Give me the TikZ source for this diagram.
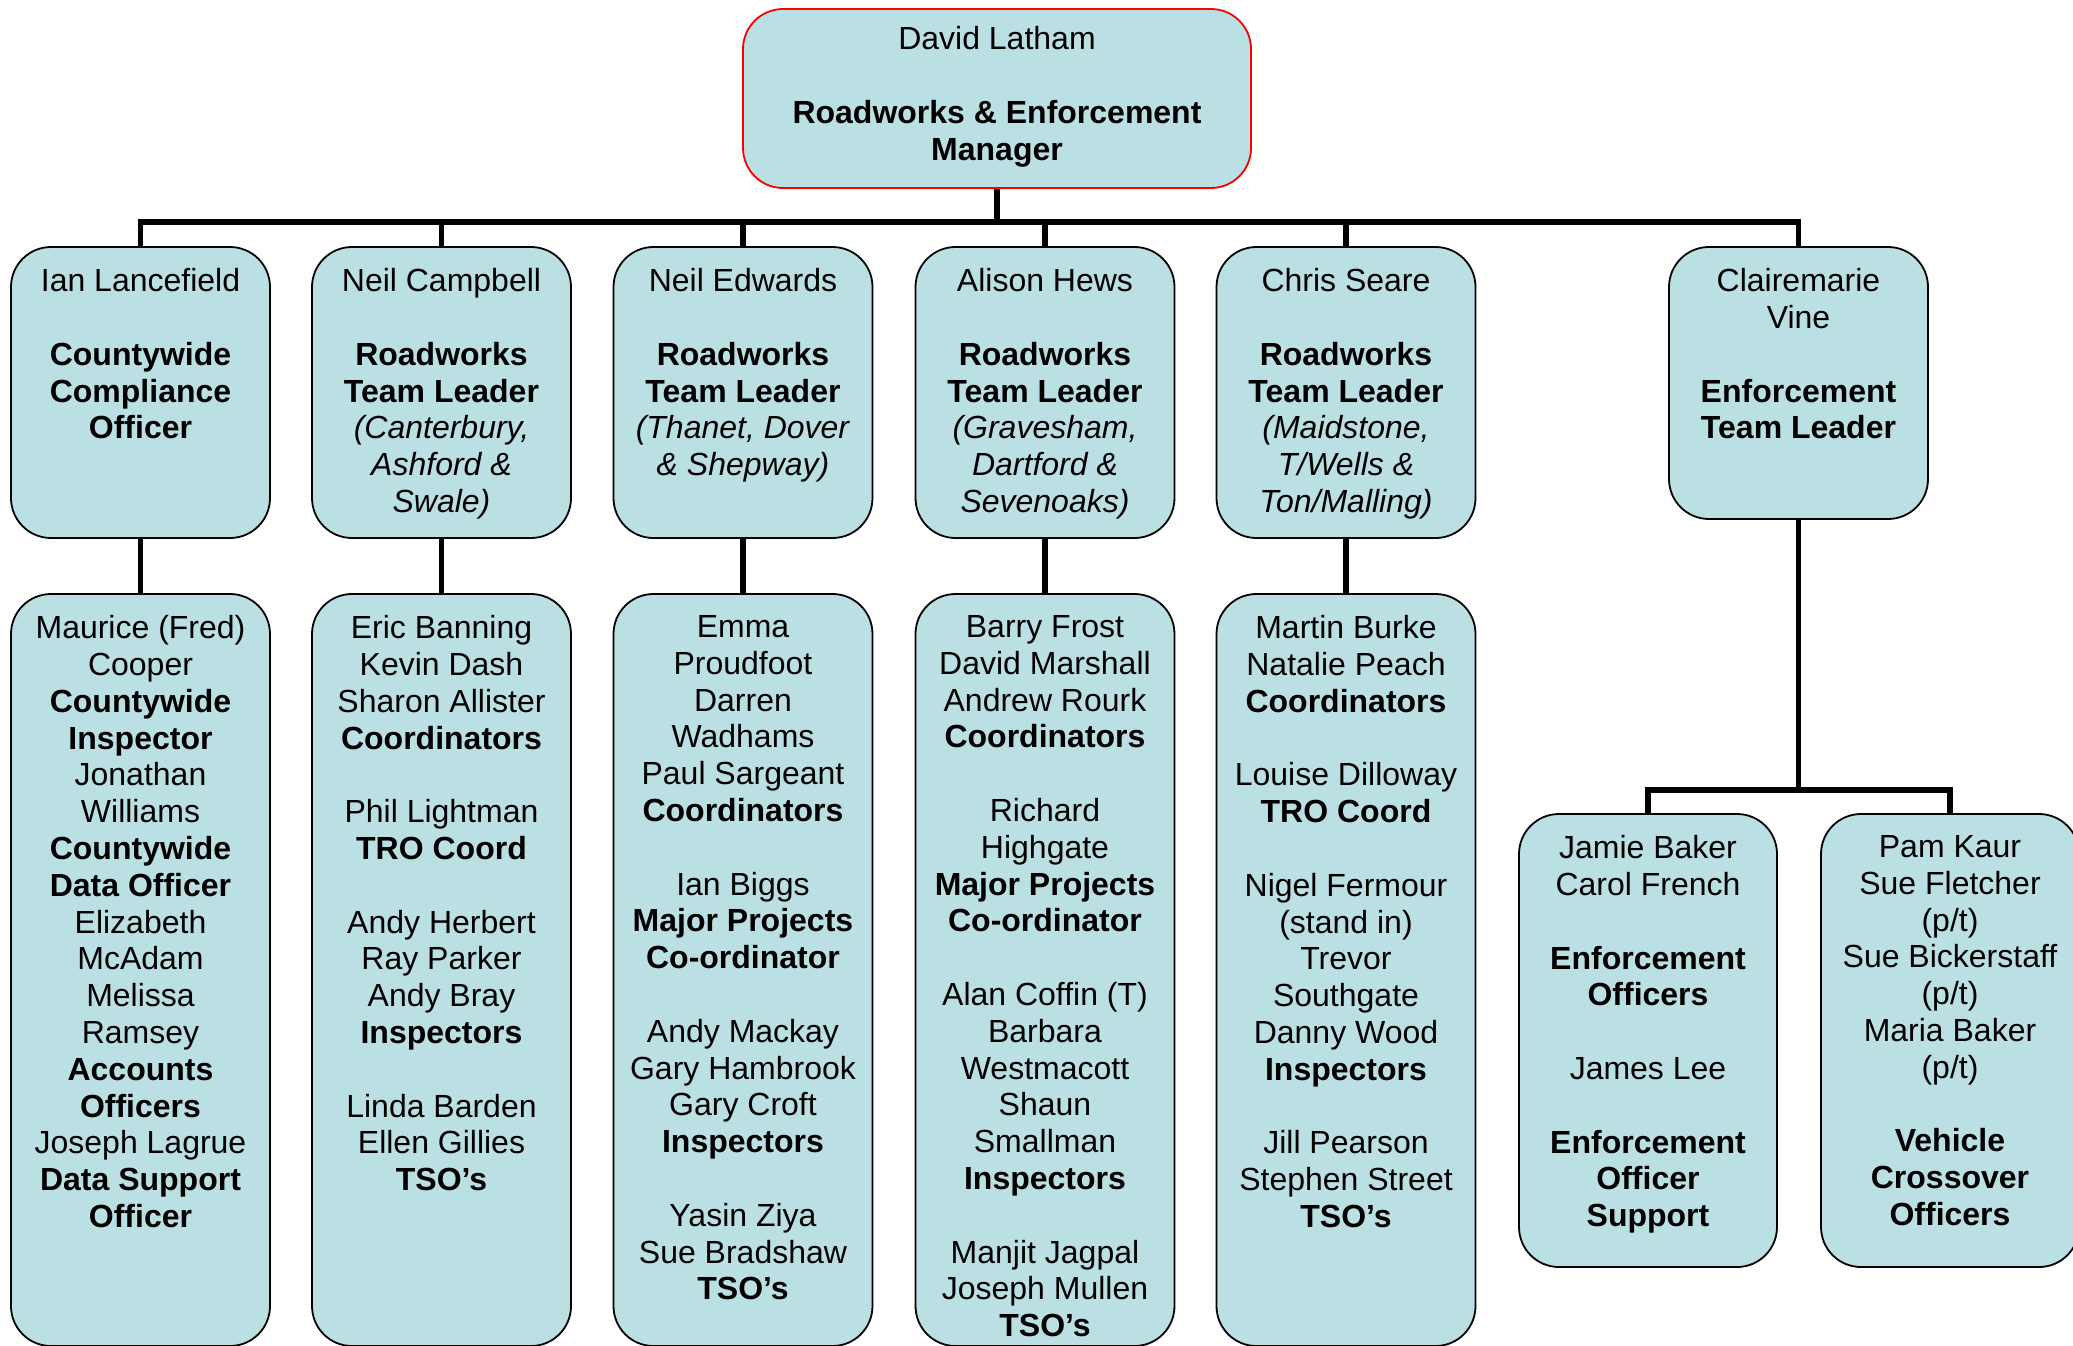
\documentclass[tikz,border=0pt]{standalone}
\usepackage{fontspec}
\setmainfont{Liberation Sans}
\definecolor{boxfill}{RGB}{187,224,227}
\definecolor{topline}{RGB}{250,0,0}
\newcommand{\skipline}{\\[18.4pt]}
\begin{document}
\begin{tikzpicture}[x=0.5pt,y=-0.5pt,
  box/.style={draw=black, line width=0.9pt, fill=boxfill, rounded corners=20pt, inner sep=0pt},
  topbox/.style={box, draw=topline, minimum width=254pt, minimum height=89.5pt},
  lbox/.style={box, minimum width=129.5pt, minimum height=145.5pt},
  mbox/.style={box, minimum width=129.5pt, minimum height=376pt},
  ebox/.style={box, minimum width=129pt, minimum height=226.5pt},
  txt/.style={anchor=north, align=center, inner sep=0pt, font=\fontsize{16}{18.4}\selectfont},
  conn/.style={draw=black, line width=2.7pt}]
\useasboundingbox (0,0) rectangle (2073,1345);
\coordinate (bus) at (0,222);
\coordinate (bus2) at (0,790);

% boxes
\node[topbox] (top) at (997,98.5) {};
\node[lbox] (l1) at (140.5,392.5) {};
\node[lbox] (l2) at (441.5,392.5) {};
\node[lbox] (l3) at (743,392.5) {};
\node[lbox] (l4) at (1045,392.5) {};
\node[lbox] (l5) at (1346,392.5) {};
\node[lbox, minimum height=136pt] (l6) at (1798.5,383) {};
\node[mbox] (m1) at (140.5,970) {};
\node[mbox] (m2) at (441.5,970) {};
\node[mbox] (m3) at (743,970) {};
\node[mbox] (m4) at (1045,970) {};
\node[mbox] (m5) at (1346,970) {};
\node[ebox] (e1) at (1648,1040.5) {};
\node[ebox] (e2) at (1950,1040.5) {};

% connectors
\draw[conn] (top.south) -- (top.south |- bus);
\draw[conn] (l1.north) |- (l6.north |- bus) -- (l6.north);
\draw[conn] (l2.north) -- (l2.north |- bus);
\draw[conn] (l3.north) -- (l3.north |- bus);
\draw[conn] (l4.north) -- (l4.north |- bus);
\draw[conn] (l5.north) -- (l5.north |- bus);
\draw[conn] (l1.south) -- (m1.north);
\draw[conn] (l2.south) -- (m2.north);
\draw[conn] (l3.south) -- (m3.north);
\draw[conn] (l4.south) -- (m4.north);
\draw[conn] (l5.south) -- (m5.north);
\draw[conn] (l6.south) -- (l6.south |- bus2);
\draw[conn] (e1.north) |- (e2.north |- bus2) -- (e2.north);

% texts
\node[txt] (ttop) at ([yshift=-9pt]top.north) {David Latham\skipline
  \textbf{Roadworks \& Enforcement}\\\textbf{Manager}};
\node[txt] (tl1) at ([yshift=-11pt]l1.north) {Ian Lancefield\skipline
  \textbf{Countywide}\\\textbf{Compliance}\\\textbf{Officer}};
\node[txt] (tl2) at ([yshift=-11pt]l2.north) {Neil Campbell\skipline
  \textbf{Roadworks}\\\textbf{Team Leader}\\\textit{(Canterbury,}\\\textit{Ashford \&}\\\textit{Swale)}};
\node[txt] (tl3) at ([yshift=-11pt]l3.north) {Neil Edwards\skipline
  \textbf{Roadworks}\\\textbf{Team Leader}\\\textit{(Thanet, Dover}\\\textit{\& Shepway)}};
\node[txt] (tl4) at ([yshift=-11pt]l4.north) {Alison Hews\skipline
  \textbf{Roadworks}\\\textbf{Team Leader}\\\textit{(Gravesham,}\\\textit{Dartford \&}\\\textit{Sevenoaks)}};
\node[txt] (tl5) at ([yshift=-11pt]l5.north) {Chris Seare\skipline
  \textbf{Roadworks}\\\textbf{Team Leader}\\\textit{(Maidstone,}\\\textit{T/Wells \&}\\\textit{Ton/Malling)}};
\node[txt] (tl6) at ([yshift=-11pt]l6.north) {Clairemarie\\Vine\skipline
  \textbf{Enforcement}\\\textbf{Team Leader}};

\node[txt] (tm1) at ([yshift=-11pt]m1.north) {Maurice (Fred)\\Cooper\\
  \textbf{Countywide}\\\textbf{Inspector}\\Jonathan\\Williams\\
  \textbf{Countywide}\\\textbf{Data Officer}\\Elizabeth\\McAdam\\Melissa\\Ramsey\\
  \textbf{Accounts}\\\textbf{Officers}\\Joseph Lagrue\\\textbf{Data Support}\\\textbf{Officer}};
\node[txt] (tm2) at ([yshift=-11pt]m2.north) {Eric Banning\\Kevin Dash\\Sharon Allister\\
  \textbf{Coordinators}\skipline
  Phil Lightman\\\textbf{TRO Coord}\skipline
  Andy Herbert\\Ray Parker\\Andy Bray\\\textbf{Inspectors}\skipline
  Linda Barden\\Ellen Gillies\\\textbf{TSO’s}};
\node[txt] (tm3) at ([yshift=-11pt]m3.north) {Emma\\Proudfoot\\Darren\\Wadhams\\Paul Sargeant\\
  \textbf{Coordinators}\skipline
  Ian Biggs\\\textbf{Major Projects}\\\textbf{Co-ordinator}\skipline
  Andy Mackay\\Gary Hambrook\\Gary Croft\\\textbf{Inspectors}\skipline
  Yasin Ziya\\Sue Bradshaw\\\textbf{TSO’s}};
\node[txt] (tm4) at ([yshift=-11pt]m4.north) {Barry Frost\\David Marshall\\Andrew Rourk\\
  \textbf{Coordinators}\skipline
  Richard\\Highgate\\\textbf{Major Projects}\\\textbf{Co-ordinator}\skipline
  Alan Coffin (T)\\Barbara\\Westmacott\\Shaun\\Smallman\\\textbf{Inspectors}\skipline
  Manjit Jagpal\\Joseph Mullen\\\textbf{TSO’s}};
\node[txt] (tm5) at ([yshift=-11pt]m5.north) {Martin Burke\\Natalie Peach\\
  \textbf{Coordinators}\skipline
  Louise Dilloway\\\textbf{TRO Coord}\skipline
  Nigel Fermour\\(stand in)\\Trevor\\Southgate\\Danny Wood\\\textbf{Inspectors}\skipline
  Jill Pearson\\Stephen Street\\\textbf{TSO’s}};
\node[txt] (te1) at ([yshift=-11pt]e1.north) {Jamie Baker\\Carol French\skipline
  \textbf{Enforcement}\\\textbf{Officers}\skipline
  James Lee\skipline
  \textbf{Enforcement}\\\textbf{Officer}\\\textbf{Support}};
\node[txt] (te2) at ([yshift=-11pt]e2.north) {Pam Kaur\\Sue Fletcher\\(p/t)\\
  Sue Bickerstaff\\(p/t)\\Maria Baker\\(p/t)\skipline
  \textbf{Vehicle}\\\textbf{Crossover}\\\textbf{Officers}};
\end{tikzpicture}
\end{document}
